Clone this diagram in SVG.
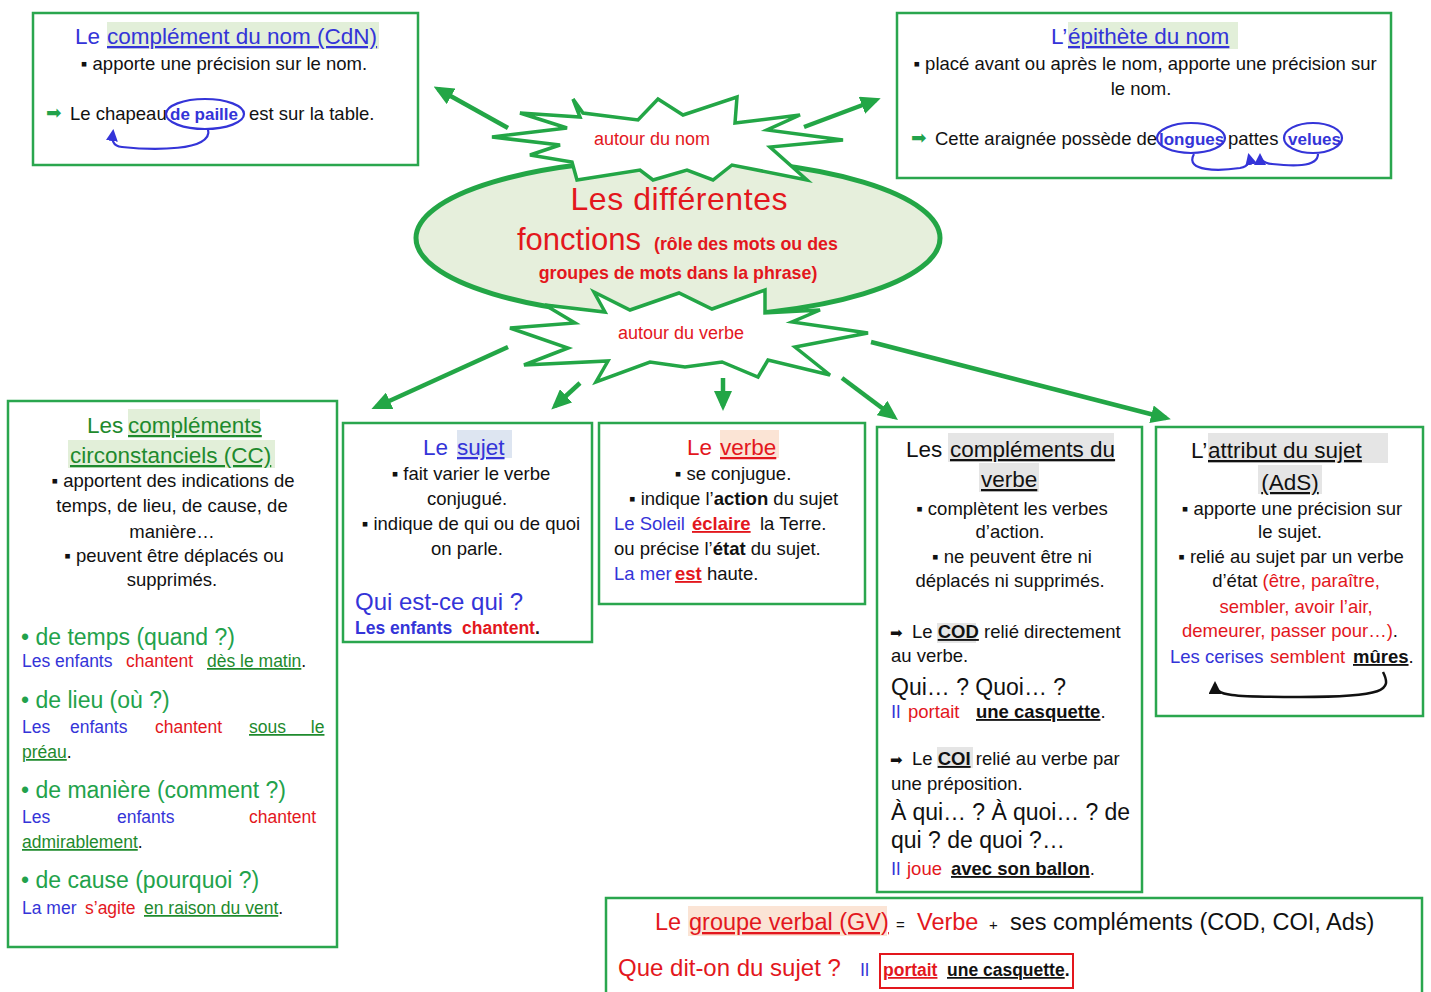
<svg xmlns="http://www.w3.org/2000/svg" width="1431" height="992" viewBox="0 0 1431 992">
<style>
text{font-family:"Liberation Sans",Arial,"DejaVu Sans",sans-serif;fill:#111}
.box{fill:#fff;stroke:#2aa64e;stroke-width:2.5}
.bd{font-size:18.5px}
.ex{font-size:17.5px}
.ti{font-size:22.5px}
.it{font-size:23px;fill:#22a24b}
.u{text-decoration:underline}
.b{font-weight:bold}
.m{text-anchor:middle}
.bl{fill:#3434d8}
.rd{fill:#e3171d}
.gr{fill:#1e8a2d}
.k{fill:#111}
.sym{font-family:"DejaVu Sans",sans-serif}
.hg{fill:#e2efd9}
.hb{fill:#dde5f1}
.hp{fill:#fbe4d5}
.hy{fill:#e5e5e5}
.ci{font-size:17px}
.con{stroke:#23a646;stroke-width:4.5;fill:none;marker-end:url(#ah)}
.burst{fill:#fff;stroke:#23a646;stroke-width:3.5;stroke-linejoin:miter}
.loop{fill:none;stroke:#3434d8;stroke-width:2.2}
</style>
<defs>
<marker id="ah" markerUnits="userSpaceOnUse" markerWidth="20" markerHeight="18" refX="15" refY="9" orient="auto"><path d="M0,0 L20,9 L0,18 z" fill="#23a646"/></marker>
<marker id="ab" markerUnits="userSpaceOnUse" markerWidth="12" markerHeight="12" refX="9" refY="6" orient="auto"><path d="M0,0 L12,6 L0,12 z" fill="#3434d8"/></marker>
<marker id="ak" markerUnits="userSpaceOnUse" markerWidth="13" markerHeight="13" refX="10" refY="6.5" orient="auto"><path d="M0,0 L13,6.5 L0,13 z" fill="#111"/></marker>
</defs>
<rect width="1431" height="992" fill="#fff"/>

<g id="cdn">
<rect class="box" x="33" y="13" width="385" height="152"/>
<rect class="hg" x="107" y="22" width="272" height="27"/>
<text class="ti bl" y="44"><tspan x="75">Le </tspan><tspan x="107" class="u">complément du nom (CdN)</tspan></text>
<text class="bd m" x="224" y="70">▪ apporte une précision sur le nom.</text>
<text class="bd sym" x="46" y="119" style="fill:#22a24b">➡</text>
<text class="bd" y="120"><tspan x="70">Le chapeau</tspan><tspan x="170" class="b bl ci">de paille</tspan><tspan x="249">est sur la table.</tspan></text>
<ellipse class="loop" cx="205" cy="114" rx="39" ry="15"/>
<path class="loop" d="M208,129 C214,152 150,150 122,147 C112,146 112,140 113,132" marker-end="url(#ab)"/>
</g>

<g id="epithete">
<rect class="box" x="897" y="13" width="494" height="165"/>
<rect class="hg" x="1068" y="22" width="170" height="27"/>
<text class="ti bl" y="44"><tspan x="1051">L’</tspan><tspan x="1068" class="u">épithète du nom</tspan></text>
<text class="bd m" x="1145" y="70">▪ placé avant ou après le nom, apporte une précision sur</text>
<text class="bd m" x="1141" y="95">le nom.</text>
<text class="bd sym" x="911" y="144" style="fill:#22a24b">➡</text>
<text class="bd" y="145"><tspan x="935">Cette araignée possède de</tspan><tspan x="1159" class="b bl ci">longues</tspan><tspan x="1228">pattes</tspan><tspan x="1288" class="b bl ci">velues</tspan></text>
<ellipse class="loop" cx="1191" cy="138" rx="34" ry="15"/>
<ellipse class="loop" cx="1313" cy="138" rx="29" ry="15"/>
<path class="loop" d="M1194,154 C1184,172 1220,171 1240,168 C1250,166 1250,160 1249,156" marker-end="url(#ab)"/>
<path class="loop" d="M1318,154 C1318,168 1290,166 1272,164 C1262,163 1260,158 1260,156" marker-end="url(#ab)"/>
</g>

<g id="centre">
<ellipse cx="678" cy="238" rx="262" ry="79" fill="#e6efdc" stroke="#23a646" stroke-width="5"/>
<polygon class="burst" points="573,99 583,113 638,120 658,99 683,115 737,97 735,123 800,115 767,130 843,140 770,147 807,180 732,165 713,180 687,170 653,180 640,170 577,180 572,162 530,155 560,145 492,137 567,128 520,113 580,117"/>
<polygon class="burst" points="594,292 630,310 679,293 712,309 765,290 765,313 820,310 792,322 868,333 795,347 830,375 768,360 758,377 722,362 685,367 650,362 596,382 608,361 524,365 568,348 510,328 575,323 545,305 605,312"/>
<text class="m" x="652" y="145" style="font-size:18px;fill:#e3171d">autour du nom</text>
<text class="m" x="681" y="339" style="font-size:18px;fill:#e3171d">autour du verbe</text>
<text class="m" x="679" y="210" style="font-size:32px;fill:#e3171d" textLength="217">Les différentes</text>
<text y="250" style="fill:#e3171d"><tspan x="517" style="font-size:31px">fonctions</tspan><tspan x="654" class="b" style="font-size:17.8px">(rôle des mots ou des</tspan></text>
<text class="b m" x="678" y="279" style="font-size:17.8px;fill:#e3171d">groupes de mots dans la phrase)</text>
</g>

<g id="cc">
<rect class="box" x="8" y="401" width="329" height="546"/>
<rect class="hg" x="128" y="409" width="132" height="27"/>
<rect class="hg" x="68" y="440" width="207" height="28"/>
<text class="ti gr" y="433"><tspan x="87">Les </tspan><tspan x="128" class="u">compléments</tspan></text>
<text class="ti gr u" x="70" y="463">circonstanciels (CC)</text>
<text class="bd m" x="173" y="487">▪ apportent des indications de</text>
<text class="bd m" x="172" y="512">temps, de lieu, de cause, de</text>
<text class="bd m" x="172" y="538">manière…</text>
<text class="bd m" x="174" y="562">▪ peuvent être déplacés ou</text>
<text class="bd m" x="172" y="586">supprimés.</text>
<text class="it" x="21" y="645">• de temps (quand ?)</text>
<text class="ex" y="667"><tspan x="22" class="bl">Les enfants</tspan><tspan x="126" class="rd">chantent</tspan><tspan x="207" class="gr u">dès le matin</tspan><tspan>.</tspan></text>
<text class="it" x="21" y="708">• de lieu (où ?)</text>
<text class="ex" y="733"><tspan x="22" class="bl">Les</tspan><tspan x="70" class="bl">enfants</tspan><tspan x="155" class="rd">chantent</tspan><tspan x="249" class="gr u" style="word-spacing:20px">sous le</tspan></text>
<text class="ex" y="758"><tspan x="22" class="gr u">préau</tspan><tspan>.</tspan></text>
<text class="it" x="21" y="798">• de manière (comment ?)</text>
<text class="ex" y="823"><tspan x="22" class="bl">Les</tspan><tspan x="117" class="bl">enfants</tspan><tspan x="249" class="rd">chantent</tspan></text>
<text class="ex" y="848"><tspan x="22" class="gr u">admirablement</tspan><tspan>.</tspan></text>
<text class="it" x="21" y="888">• de cause (pourquoi ?)</text>
<text class="ex" y="914"><tspan x="22" class="bl">La mer</tspan><tspan x="85" class="rd">s’agite</tspan><tspan x="144" class="gr u">en raison du vent</tspan><tspan>.</tspan></text>
</g>

<g id="sujet">
<rect class="box" x="343" y="423" width="249" height="219"/>
<rect class="hb" x="457" y="430" width="55" height="28"/>
<text class="ti bl" y="455"><tspan x="423">Le </tspan><tspan x="457" class="u">sujet</tspan></text>
<text class="bd m" x="471" y="480">▪ fait varier le verbe</text>
<text class="bd m" x="467" y="505">conjugué.</text>
<text class="bd m" x="471" y="530">▪ indique de qui ou de quoi</text>
<text class="bd m" x="467" y="555">on parle.</text>
<text class="bl" x="355" y="610" style="font-size:24px">Qui est-ce qui ?</text>
<text class="b" y="634" style="font-size:17.5px"><tspan x="355" class="bl">Les enfants</tspan><tspan x="462" class="rd">chantent</tspan><tspan>.</tspan></text>
</g>

<g id="verbe">
<rect class="box" x="599" y="423" width="266" height="181"/>
<rect class="hp" x="720" y="430" width="59" height="28"/>
<text class="ti rd" y="455"><tspan x="687">Le </tspan><tspan x="720" class="u">verbe</tspan></text>
<text class="bd m" x="733" y="480">▪ se conjugue.</text>
<text class="bd" x="629" y="505">▪ indique l’<tspan class="b">action</tspan> du sujet</text>
<text class="bd" y="530"><tspan x="614" class="bl">Le Soleil</tspan><tspan x="692" class="rd b u">éclaire</tspan><tspan x="760">la Terre.</tspan></text>
<text class="bd" x="614" y="555">ou précise l’<tspan class="b">état</tspan> du sujet.</text>
<text class="bd" y="580"><tspan x="614" class="bl">La mer</tspan><tspan x="675" class="rd b u">est</tspan><tspan x="707">haute.</tspan></text>
</g>

<g id="complements">
<rect class="box" x="877" y="427" width="265" height="465"/>
<rect class="hy" x="948" y="433" width="166" height="29"/>
<rect class="hy" x="979" y="463" width="60" height="29"/>
<rect class="hy" x="937" y="623" width="39" height="20"/>
<rect class="hy" x="937" y="747" width="36" height="21"/>
<text class="ti" y="457"><tspan x="906">Les</tspan><tspan x="950" class="u">compléments du</tspan></text>
<text class="ti u" x="981" y="487">verbe</text>
<text class="bd m" x="1012" y="515">▪ complètent les verbes</text>
<text class="bd m" x="1010" y="538">d’action.</text>
<text class="bd m" x="1012" y="563">▪ ne peuvent être ni</text>
<text class="bd m" x="1010" y="587">déplacés ni supprimés.</text>
<text class="bd" y="638"><tspan x="890" class="sym" style="font-size:15px">➡</tspan><tspan x="912">Le </tspan><tspan class="b u">COD</tspan><tspan> relié directement</tspan></text>
<text class="bd" x="891" y="662">au verbe.</text>
<text x="891" y="695" style="font-size:23px">Qui… ? Quoi… ?</text>
<text class="bd" y="718"><tspan x="891" class="bl">Il</tspan><tspan x="908" class="rd">portait</tspan><tspan x="976" class="b u">une casquette</tspan><tspan>.</tspan></text>
<text class="bd" y="765"><tspan x="890" class="sym" style="font-size:15px">➡</tspan><tspan x="912">Le </tspan><tspan class="b u">COI</tspan><tspan> relié au verbe par</tspan></text>
<text class="bd" x="891" y="790">une préposition.</text>
<text x="891" y="820" style="font-size:23px" textLength="239">À qui… ? À quoi… ? de</text>
<text x="891" y="848" style="font-size:23px">qui ? de quoi ?…</text>
<text class="bd" y="875"><tspan x="891" class="bl">Il</tspan><tspan x="907" class="rd">joue</tspan><tspan x="951" class="b u">avec son ballon</tspan><tspan>.</tspan></text>
</g>

<g id="attribut">
<rect class="box" x="1156" y="427" width="267" height="289"/>
<rect class="hy" x="1208" y="433" width="180" height="30"/>
<rect class="hy" x="1258" y="465" width="64" height="29"/>
<text class="ti" y="458"><tspan x="1191">L’</tspan><tspan x="1208" class="u">attribut du sujet</tspan></text>
<text class="ti u m" x="1290" y="490">(AdS)</text>
<text class="bd m" x="1292" y="515">▪ apporte une précision sur</text>
<text class="bd m" x="1290" y="538">le sujet.</text>
<text class="bd m" x="1291" y="563">▪ relié au sujet par un verbe</text>
<text class="bd m" x="1296" y="587">d’état <tspan class="rd">(être, paraître,</tspan></text>
<text class="bd m rd" x="1296" y="613">sembler, avoir l’air,</text>
<text class="bd m" x="1290" y="637"><tspan class="rd">demeurer, passer pour…)</tspan>.</text>
<text class="bd" y="663"><tspan x="1170" class="bl">Les cerises</tspan><tspan x="1270" class="rd">semblent</tspan><tspan x="1353" class="b u">mûres</tspan><tspan>.</tspan></text>
<path d="M1383,672 C1392,690 1386,697 1300,697 C1232,697 1215,696 1215,684" fill="none" stroke="#111" stroke-width="2.5" marker-end="url(#ak)"/>
</g>

<g id="gv">
<rect class="box" x="606" y="898" width="816" height="110"/>
<rect class="hp" x="688" y="906" width="199" height="30"/>
<text y="930" style="font-size:23.5px"><tspan x="655" class="rd">Le</tspan><tspan x="689" class="rd u">groupe verbal (GV)</tspan><tspan x="896" style="font-size:15px">=</tspan><tspan x="917" class="rd">Verbe</tspan><tspan x="989" style="font-size:15px">+</tspan><tspan x="1010">ses compléments (COD, COI, Ads)</tspan></text>
<text y="976"><tspan x="618" class="rd" style="font-size:24px">Que dit-on du sujet ?</tspan><tspan x="860" class="bl" style="font-size:18px">Il</tspan></text>
<rect x="880" y="954" width="193" height="34" fill="none" stroke="#e3171d" stroke-width="2"/>
<text class="b" y="976" style="font-size:17.5px"><tspan x="883" class="rd u">portait</tspan><tspan x="947" class="u">une casquette</tspan><tspan>.</tspan></text>
</g>

<g id="connectors">
<path class="con" d="M508,128 L438,89"/>
<path class="con" d="M804,127 L876,100"/>
<path class="con" d="M508,347 L376,407"/>
<path class="con" d="M580,383 L555,406"/>
<path class="con" d="M723,378 L723,406"/>
<path class="con" d="M842,378 L894,417"/>
<path class="con" d="M871,342 L1166,418"/>
</g>
</svg>
